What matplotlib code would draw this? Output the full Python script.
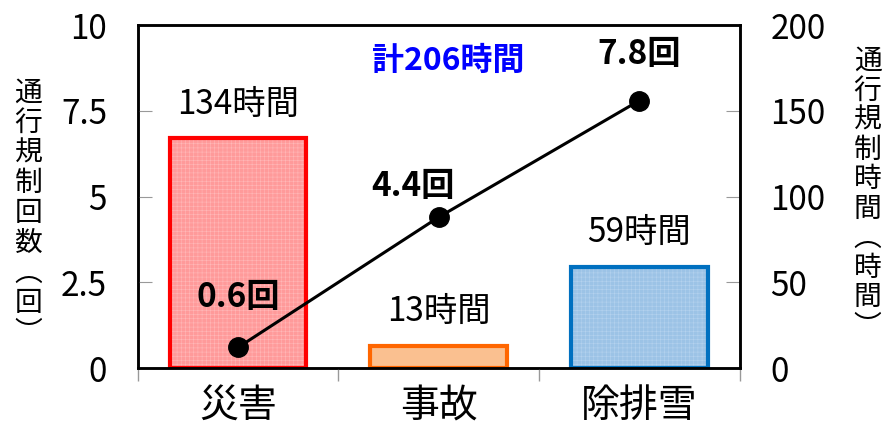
import matplotlib
matplotlib.use("Agg")
import matplotlib.pyplot as plt
import numpy as np

plt.rcParams['font.family'] = ['Noto Sans CJK JP', 'DejaVu Sans']
plt.rcParams['hatch.linewidth'] = 0.4

#### データ ####
categories = ['災害', '事故', '除排雪']
hours = [134, 13, 59]          # 通行規制時間(時間) 右軸
counts = [0.6, 4.4, 7.8]       # 通行規制回数(回) 左軸
hour_labels = ['134時間', '13時間', '59時間']
count_labels = ['0.6回', '4.4回', '7.8回']
total_label = '計206時間'

fill_colors = ['#ff9a9a', '#fac090', '#9cc3e6']
hatch_colors = ['#ffb8b8', '#fac090', '#b4d2ee']
edge_colors = ['#ff0000', '#ff6600', '#0070c0']

#### ラベルの位置ずらし ####
count_label_dx = [0, -0.13, 0]
count_label_dy = [1.45, 0.9, 1.35]

fig = plt.figure(figsize=(8.88, 4.26), dpi=100)
ax = fig.add_axes([0.155, 0.136, 0.678, 0.805])
ax2 = ax.twinx()

x = np.arange(len(categories))

#### 棒グラフ(右軸) ####
ax2.bar(x, hours, width=0.68, color=fill_colors, edgecolor=hatch_colors,
        hatch='++++', linewidth=0, zorder=1)
ax2.bar(x, hours, width=0.68, facecolor='none', edgecolor=edge_colors,
        linewidth=3, zorder=2)
ax2.set_ylim(0, 200)
ax2.set_yticks([0, 50, 100, 150, 200])

for xi, h, lab in zip(x, hours, hour_labels):
    ax2.text(xi, h + 20, lab, ha='center', va='center', fontsize=24)

#### 折れ線グラフ(左軸) ####
ax.set_zorder(ax2.get_zorder() + 1)
ax.patch.set_visible(False)
ax.plot(x, counts, color='black', lw=2.2, marker='o', markersize=14, zorder=5)
ax.set_ylim(0, 10)
ax.set_yticks([0, 2.5, 5, 7.5, 10])
ax.set_yticklabels(['0', '2.5', '5', '7.5', '10'])
ax.set_xlim(-0.5, 2.5)

for xi, c, lab, dx, dy in zip(x, counts, count_labels, count_label_dx, count_label_dy):
    ax.text(xi + dx, c + dy, lab, ha='center', va='center', fontsize=24,
            fontweight='bold')

ax.text(1.05, 8.95, total_label, ha='center', va='center', fontsize=23,
        fontweight='bold', color='#0000ff')

#### 軸の体裁 ####
ax.set_xticks(x)
ax.set_xticklabels(categories, fontsize=28)
ax.tick_params(axis='x', length=0, pad=13)
ax.set_xticks([-0.5, 0.5, 1.5, 2.5], minor=True)
ax.tick_params(axis='x', which='minor', direction='out', length=9,
               color='#999999', width=1)
ax.tick_params(axis='y', direction='in', length=10, color='#999999',
               labelsize=24, pad=22)
ax2.tick_params(axis='y', direction='in', length=10, color='#999999',
                labelsize=24, pad=22)

for a in (ax, ax2):
    for s in a.spines.values():
        s.set_linewidth(1.8)
        s.set_color('black')

left_label = '\n'.join('通行規制回数') + '\n︵\n回\n︶'
right_label = '\n'.join('通行規制時間') + '\n︵\n時\n間\n︶'
fig.text(0.032, 0.50, left_label, ha='center', va='center', fontsize=20,
         linespacing=1.0)
fig.text(0.977, 0.545, right_label, ha='center', va='center', fontsize=20,
         linespacing=0.98)

plt.savefig('out.png', dpi=100)
plt.close()
